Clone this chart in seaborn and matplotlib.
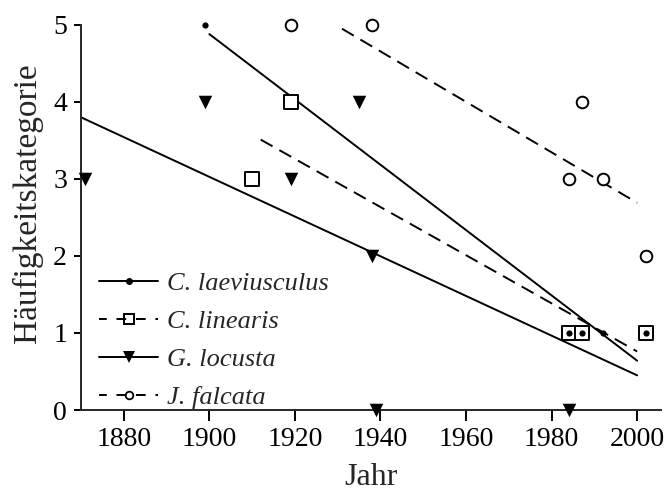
"""
Haeufigkeitskategorie ueber die Jahre, vier Arten mit Trendlinien
"""

import numpy as np
import pandas as pd
import matplotlib
matplotlib.use('Agg')
import matplotlib.pyplot as plt
from matplotlib.lines import Line2D
import seaborn as sns

# Beobachtungen (Jahr, Kategorie) je Art
species = ['C. laeviusculus', 'C. linearis', 'G. locusta', 'J. falcata']

laev_years = [1899, 1984, 1987, 1992, 2002]
laev_cat = [5, 1, 1, 1, 1]

lin_years = [1910, 1919, 1984, 1987, 2002]
lin_cat = [3, 4, 1, 1, 1]

loc_years = [1871, 1899, 1919, 1935, 1938, 1939, 1984]
loc_cat = [3, 4, 3, 4, 2, 0, 0]

falc_years = [1919, 1938, 1984, 1987, 1992, 2002]
falc_cat = [5, 5, 3, 4, 3, 2]

trend_start = [1900, 1912, 1870, 1931]
trend_end = [2000, 2000, 2000, 2000]
trend_start_val = [4.88, 3.51, 3.80, 4.95]
trend_end_val = [0.64, 0.76, 0.45, 2.69]

# Build tidy frame
obs = pd.concat([
    pd.DataFrame({'Jahr': laev_years, 'Kategorie': laev_cat, 'Art': species[0]}),
    pd.DataFrame({'Jahr': lin_years, 'Kategorie': lin_cat, 'Art': species[1]}),
    pd.DataFrame({'Jahr': loc_years, 'Kategorie': loc_cat, 'Art': species[2]}),
    pd.DataFrame({'Jahr': falc_years, 'Kategorie': falc_cat, 'Art': species[3]}),
], ignore_index=True)

sns.set_theme(style='ticks')
plt.rcParams['font.family'] = ['Liberation Serif', 'DejaVu Serif']
plt.rcParams['axes.linewidth'] = 1.4
plt.rcParams['xtick.major.width'] = 1.4
plt.rcParams['ytick.major.width'] = 1.4

fig = plt.figure(figsize=(6.64, 4.97), dpi=100)
ax = fig.add_axes([0.122, 0.175, 0.873, 0.775])

line_styles = ['-', (0, (7, 4)), '-', (0, (7, 4))]

# Trend lines
for i, sp in enumerate(species):
    sns.lineplot(x=[trend_start[i], trend_end[i]], y=[trend_start_val[i], trend_end_val[i]],
                 ax=ax, color='black', lw=1.4, linestyle=line_styles[i], zorder=2)

# Markers per species
marker_opts = {
    'C. linearis': dict(marker='s', s=100, facecolor='white', edgecolor='black', linewidth=1.4, zorder=3),
    'J. falcata': dict(marker='o', s=70, facecolor='white', edgecolor='black', linewidth=1.4, zorder=3),
    'G. locusta': dict(marker='v', s=95, color='black', linewidth=0, zorder=3),
    'C. laeviusculus': dict(marker='o', s=20, color='black', linewidth=0, zorder=4),
}
for sp in ['C. linearis', 'J. falcata', 'G. locusta', 'C. laeviusculus']:
    sub = obs[obs['Art'] == sp]
    sns.scatterplot(data=sub, x='Jahr', y='Kategorie', ax=ax, clip_on=False, legend=False,
                    **marker_opts[sp])

ax.set_xlim(1870, 2005.5)
ax.set_ylim(0, 5)
ax.set_xticks([1880, 1900, 1920, 1940, 1960, 1980, 2000])
ax.set_yticks([0, 1, 2, 3, 4, 5])
ax.tick_params(labelsize=20, direction='out', colors='black')
ax.tick_params(axis='x', length=8, pad=4.5)
ax.tick_params(axis='y', length=5, pad=5)
sns.despine(ax=ax)
ax.set_xlabel('Jahr', fontsize=23, labelpad=8)
ax.set_ylabel('Häufigkeitskategorie', fontsize=24)
ax.yaxis.set_label_coords(-0.066, 0.536)

handles = [
    Line2D([], [], color='black', lw=1.4, ls='-', marker='o', markersize=4, markerfacecolor='black'),
    Line2D([], [], color='black', lw=1.4, ls=(1, (5, 5)), marker='s', markersize=7.5,
           markerfacecolor='none', markeredgewidth=1.4),
    Line2D([], [], color='black', lw=1.4, ls='-', marker='v', markersize=8, markeredgewidth=0),
    Line2D([], [], color='black', lw=1.4, ls=(1, (5, 5)), marker='o', markersize=5.5,
           markerfacecolor='none', markeredgewidth=1.3),
]
ax.legend(handles, species, loc='lower left', bbox_to_anchor=(0.0, -0.045), frameon=False,
          prop={'family': 'Liberation Serif', 'style': 'italic', 'size': 19},
          handlelength=2.2, handletextpad=0.35, labelspacing=0.55, borderaxespad=0.3)

plt.savefig('out.png', dpi=100)
